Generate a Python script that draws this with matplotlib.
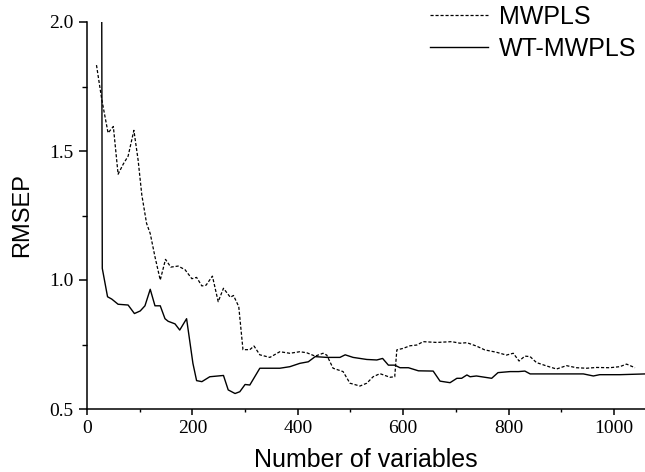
import numpy as np
import matplotlib.pyplot as plt

# MWPLS (dashed)
mwpls_x = [18, 28, 40, 50, 59, 69, 78, 89, 97, 104, 113, 120, 129, 139, 149, 159,
           173, 186, 199, 208, 218, 226, 238, 249, 259, 272, 278, 288, 296, 309,
           317, 328, 347, 366, 385, 404, 417, 433, 448, 455, 467, 486, 499, 518,
           531, 543, 556, 575, 584, 588, 600, 613, 626, 638, 664, 692, 708, 721,
           739, 755, 777, 796, 809, 820, 831, 841, 853, 872, 891, 910, 929, 948,
           967, 992, 1011, 1024, 1040]
mwpls_y = [1.833, 1.70, 1.57, 1.595, 1.41, 1.45, 1.48, 1.58, 1.465, 1.33, 1.22, 1.18,
           1.09, 1.00, 1.08, 1.05, 1.054, 1.04, 1.005, 1.01, 0.977, 0.98, 1.015,
           0.916, 0.968, 0.933, 0.94, 0.897, 0.73, 0.73, 0.744, 0.71, 0.70, 0.722,
           0.716, 0.722, 0.718, 0.705, 0.716, 0.709, 0.658, 0.645, 0.60, 0.589,
           0.60, 0.625, 0.637, 0.623, 0.625, 0.729, 0.735, 0.745, 0.748, 0.761,
           0.758, 0.761, 0.755, 0.757, 0.744, 0.729, 0.72, 0.709, 0.716, 0.686,
           0.705, 0.703, 0.68, 0.667, 0.655, 0.668, 0.66, 0.658, 0.661, 0.66,
           0.664, 0.674, 0.66]

# WT-MWPLS (solid)
wt_x = [28, 29, 39, 47, 59, 78, 90, 101, 110, 120, 129, 139, 148, 154, 167, 176,
        189, 201, 208, 218, 233, 259, 268, 281, 290, 300, 309, 328, 366, 385, 404,
        420, 433, 455, 480, 490, 505, 531, 550, 561, 572, 584, 594, 610, 629, 657,
        670, 689, 702, 711, 721, 727, 739, 755, 768, 780, 803, 819, 831, 841, 879,
        917, 942, 961, 973, 1011, 1060]
wt_y = [2.0, 1.045, 0.935, 0.926, 0.906, 0.903, 0.87, 0.88, 0.90, 0.964, 0.90, 0.90,
        0.85, 0.84, 0.83, 0.806, 0.85, 0.677, 0.61, 0.606, 0.625, 0.63, 0.574, 0.56,
        0.567, 0.595, 0.593, 0.658, 0.658, 0.664, 0.677, 0.683, 0.703, 0.70, 0.70,
        0.71, 0.70, 0.692, 0.69, 0.696, 0.67, 0.67, 0.66, 0.66, 0.648, 0.647, 0.608,
        0.602, 0.619, 0.619, 0.632, 0.625, 0.628, 0.623, 0.619, 0.641, 0.645,
        0.645, 0.647, 0.636, 0.636, 0.636, 0.636, 0.628, 0.633, 0.633, 0.636]

fig = plt.figure(figsize=(6.45, 4.72), dpi=100)
ax = fig.add_axes([87/645, 1 - 409/472, 1 - 87/645, 387/472])

l1, = ax.plot(mwpls_x, mwpls_y, color="black", linewidth=0.9,
              linestyle=(0, (2.5, 1.5)), label="MWPLS")
l2, = ax.plot(wt_x, wt_y, color="black", linewidth=1.0, label="WT-MWPLS")

ax.set_xlim(0, 1059)
ax.set_ylim(0.5, 2.0)
ax.set_xticks(np.arange(0, 1001, 200))
ax.set_xticks(np.arange(100, 1001, 200), minor=True)
ax.set_yticks([0.5, 1.0, 1.5, 2.0])
ax.set_yticks([0.75, 1.25, 1.75], minor=True)
ax.set_xticklabels([str(v) for v in range(0, 1001, 200)])
ax.set_yticklabels(["0.5", "1.0", "1.5", "2.0"])

for s in ["top", "right"]:
    ax.spines[s].set_visible(False)
for s in ["left", "bottom"]:
    ax.spines[s].set_linewidth(1.1)

ax.tick_params(axis="both", which="major", direction="out", width=1.1)
ax.tick_params(axis="x", which="major", length=4.5)
ax.tick_params(axis="x", which="minor", length=2.5, width=1.0)
ax.tick_params(axis="y", which="major", length=6)
ax.tick_params(axis="y", which="minor", length=3.5, width=1.0)
for lab in ax.get_xticklabels() + ax.get_yticklabels():
    lab.set_fontfamily("Liberation Serif")
    lab.set_fontsize(14)

ax.set_xlabel("Number of variables", fontfamily="Liberation Sans", fontsize=18, labelpad=8)
ax.set_ylabel("RMSEP", fontfamily="Liberation Sans", fontsize=17, labelpad=12)

fig.legend(handles=[l1, l2], loc="upper left", bbox_to_anchor=(430/645, 1 - 5/472),
           frameon=False, borderpad=0, borderaxespad=0, handlelength=2.3,
           handletextpad=0.45, labelspacing=0.3,
           prop={"family": "Liberation Sans", "size": 18})

plt.savefig("out.png", dpi=100)
